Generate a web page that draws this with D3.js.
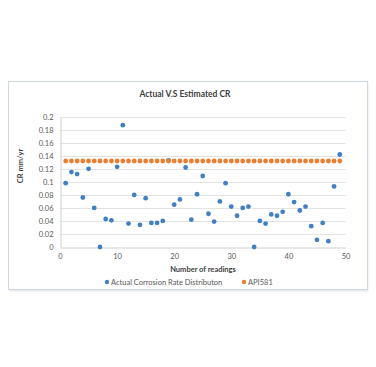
<!DOCTYPE html>
<html>
<head>
<meta charset="utf-8">
<script src="https://cdn.jsdelivr.net/npm/d3@7"></script>
<style>
  body { margin: 0; background: #fff; }
  text { font-family: Lato, "Open Sans", sans-serif; }
</style>
</head>
<body>
<div id="chart"></div>
<script>
// readings 1..49
const readings = d3.range(1, 50);
const actualCR = [
  0.098, 0.115, 0.112, 0.076, 0.120, 0.060, 0.000, 0.043, 0.041, 0.123,
  0.187, 0.036, 0.080, 0.034, 0.075, 0.037, 0.037, 0.040, 0.133, 0.065,
  0.073, 0.122, 0.042, 0.081, 0.109, 0.051, 0.039, 0.070, 0.098, 0.062,
  0.048, 0.060, 0.062, 0.000, 0.040, 0.036, 0.050, 0.048, 0.054, 0.081,
  0.069, 0.056, 0.062, 0.032, 0.011, 0.037, 0.009, 0.093, 0.142
];
const api581 = readings.map(() => 0.132);
const xTicks = [0, 10, 20, 30, 40, 50];
const yTicks = [0, 0.02, 0.04, 0.06, 0.08, 0.1, 0.12, 0.14, 0.16, 0.18, 0.2];
const seriesNames = ["Actual Corrosion Rate Distributon", "API581"];
const colors = ["#4280c4", "#ed7d31"];

const width = 376, height = 367;
const svg = d3.select("#chart").append("svg")
  .attr("width", width)
  .attr("height", height);

// chart frame with soft shadow
svg.append("rect")
  .attr("x", 9.5).attr("y", 82.5)
  .attr("width", 359).attr("height", 209)
  .attr("fill", "#e6eaf0");
svg.append("rect")
  .attr("x", 8.5).attr("y", 81.5)
  .attr("width", 359).attr("height", 208)
  .attr("fill", "#fff")
  .attr("stroke", "#cdd6e2");

const x = d3.scaleLinear().domain([0, 50]).range([60, 345.5]);
const y = d3.scaleLinear().domain([0, 0.2]).range([247, 116.7]);

// gridlines
svg.append("g")
  .selectAll("line")
  .data(yTicks.slice(1))
  .enter().append("line")
    .attr("x1", x(0)).attr("x2", x(50))
    .attr("y1", d => Math.round(y(d)) + 0.5)
    .attr("y2", d => Math.round(y(d)) + 0.5)
    .attr("stroke", "#e3e3e3");

// axes
const yAxis = svg.append("g")
  .attr("transform", "translate(" + (x(0) + 0.5) + ",0)")
  .call(d3.axisLeft(y).tickValues(yTicks).tickSize(0).tickPadding(7)
    .tickFormat(d => d3.format("~g")(d)));
const xAxis = svg.append("g")
  .attr("transform", "translate(0," + (Math.round(y(0)) + 0.5) + ")")
  .call(d3.axisBottom(x).tickValues(xTicks).tickSize(0).tickPadding(6));
[xAxis, yAxis].forEach(g => {
  g.select(".domain").attr("stroke", "#d0d0d0");
  g.selectAll("text")
    .attr("fill", "#595959")
    .style("font-size", "7.5px")
    .style("font-family", "Lato, 'Open Sans', sans-serif");
});

// API581 series (drawn behind? no, on top like Excel)
svg.append("g")
  .selectAll("circle")
  .data(readings)
  .enter().append("circle")
    .attr("cx", (d, i) => x(d))
    .attr("cy", (d, i) => y(actualCR[i]))
    .attr("r", 2.4)
    .attr("fill", colors[0]);

svg.append("g")
  .selectAll("circle")
  .data(readings)
  .enter().append("circle")
    .attr("cx", (d, i) => x(d))
    .attr("cy", (d, i) => y(api581[i]))
    .attr("r", 2.4)
    .attr("fill", colors[1]);

// title
svg.append("text")
  .attr("x", 185).attr("y", 97)
  .attr("text-anchor", "middle")
  .attr("fill", "#404040")
  .style("font-size", "8.5px")
  .style("font-weight", "bold")
  .text("Actual V.S Estimated CR");

// axis titles
svg.append("text")
  .attr("x", 203).attr("y", 272)
  .attr("text-anchor", "middle")
  .attr("fill", "#404040")
  .style("font-size", "7.5px")
  .style("font-weight", "bold")
  .text("Number of readings");

svg.append("text")
  .attr("transform", "translate(23,166) rotate(-90)")
  .attr("text-anchor", "middle")
  .attr("fill", "#404040")
  .style("font-size", "7.5px")
  .style("font-weight", "bold")
  .text("CR mm/yr");

// legend
const legendX = [107, 244];
const legend = svg.append("g").selectAll("g")
  .data(seriesNames)
  .enter().append("g")
    .attr("transform", (d, i) => "translate(" + legendX[i] + ",282)");
legend.append("circle")
  .attr("r", 2.2)
  .attr("fill", (d, i) => colors[i]);
legend.append("text")
  .attr("x", 4).attr("y", 2.6)
  .attr("fill", "#595959")
  .style("font-size", "7.5px")
  .text(d => d);
</script>
</body>
</html>
